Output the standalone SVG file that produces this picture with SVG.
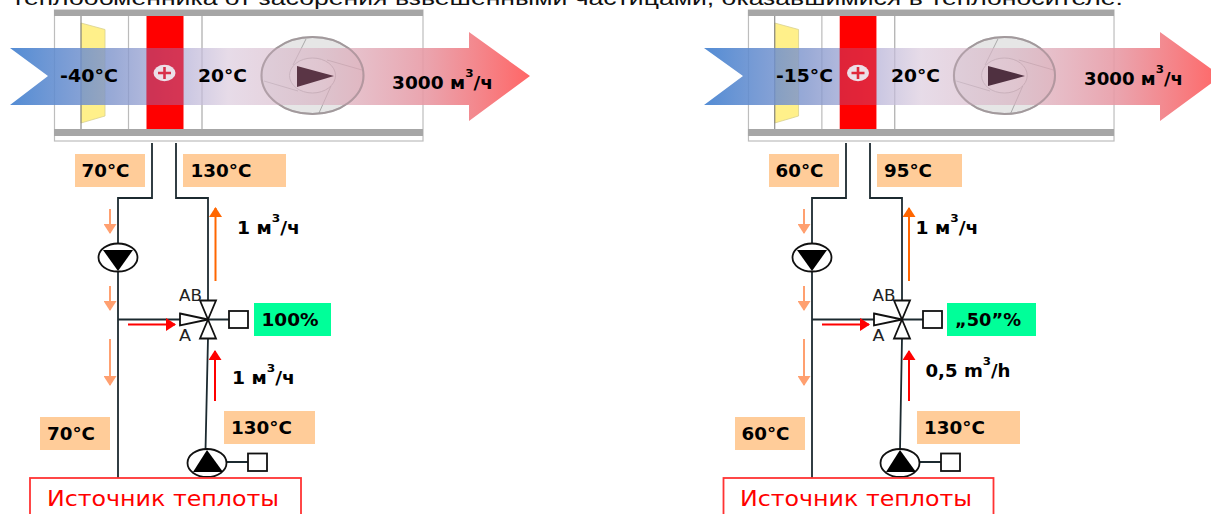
<svg xmlns="http://www.w3.org/2000/svg" xmlns:xlink="http://www.w3.org/1999/xlink" width="1211" height="514" viewBox="0 0 1211 514">
<style>
text{font-family:"DejaVu Sans",Verdana,sans-serif}
.b{font-weight:700;font-size:18px;fill:#000}
.m{font-weight:700;font-size:17px;fill:#000}
.s{font-size:11px;font-weight:700}
.p{fill:#fc9}
.g{fill:#0f9}
.pipe{fill:none;stroke:#1c2a30;stroke-width:1.800}
.sym{fill:#fff;stroke:#111;stroke-width:1.800}
.blk{fill:#000}
.l{font-size:15px;fill:#222}
.src{font-size:22px;fill:#f00}
.box{fill:#fff;stroke:#f33;stroke-width:1.800}
.ap{stroke:#ffa070;stroke-width:2;fill:none;marker-end:url(#mp)}
.ao{stroke:#f60;stroke-width:2;fill:none;marker-end:url(#mo)}
.ar{stroke:#f00;stroke-width:2;fill:none;marker-end:url(#mr)}
.ring{fill:none;stroke:#9a8a90;stroke-width:2;stroke-opacity:.55}
</style>
<defs>
<linearGradient id="flow" x1="0" x2="1" y1="0" y2="0">
<stop offset="0" stop-color="#4a86d2" stop-opacity=".95"/>
<stop offset=".2" stop-color="#8095cc" stop-opacity=".8"/>
<stop offset=".33" stop-color="#b5b2d8" stop-opacity=".75"/>
<stop offset=".42" stop-color="#dcccde" stop-opacity=".7"/>
<stop offset=".6" stop-color="#d8b0c0" stop-opacity=".65"/>
<stop offset=".8" stop-color="#e89aa5" stop-opacity=".9"/>
<stop offset="1" stop-color="#ff6666"/>
</linearGradient>
<marker id="mp" markerUnits="userSpaceOnUse" markerWidth="11" markerHeight="13" refX="9" refY="6.500" orient="auto"><path d="M0 0L10 6.500L0 13Z" fill="#ffa070"/></marker>
<marker id="mo" markerUnits="userSpaceOnUse" markerWidth="11" markerHeight="13" refX="9" refY="6.500" orient="auto"><path d="M0 0L10 6.500L0 13Z" fill="#f60"/></marker>
<marker id="mr" markerUnits="userSpaceOnUse" markerWidth="11" markerHeight="13" refX="9" refY="6.500" orient="auto"><path d="M0 0L10 6.500L0 13Z" fill="#f00"/></marker>
<g id="duct">
<rect x="54.500" y="10" width="368.500" height="131" fill="#fff" stroke="#bdbdbd" stroke-width="1.200"/>
<rect x="54" y="10" width="369" height="6" fill="#a6a6a6"/>
<rect x="54" y="129" width="369" height="7" fill="#a6a6a6"/>
<path d="M81 23L105 29.500V116L81 123Z" fill="#fff08a" stroke="#d8d090" stroke-width=".8"/>
<path d="M81 16V129" stroke="#777" stroke-width="1"/>
<path d="M128.500 16V129" stroke="#bbb" stroke-width="1.200"/>
<rect x="146.500" y="16" width="37" height="113" fill="#f00"/>
<path d="M202 16V129" stroke="#999" stroke-width="1"/>
<ellipse cx="312.500" cy="75.500" rx="51" ry="38.500" fill="#e6e6e6" stroke="#aaa" stroke-width="2"/>
<ellipse cx="312.500" cy="75.500" rx="23" ry="17.500" fill="#eee" stroke="#aaa" stroke-width="1"/>
<path d="M306 39L293 65M362 70L327 60M319 113L331 86M264 81L298 91" stroke="#999" stroke-width=".8" fill="none"/>
</g>
<g id="pump"><ellipse cx="0" cy="0" rx="19.500" ry="14" class="sym"/></g>
<g id="valve">
<path d="M-8-19H8L0 0L-8 19H8L0 0Z" class="sym"/>
<path d="M-28-6L0 0L-28 6Z" class="sym"/>
</g>
</defs>
<text x="12" y="5" font-size="20" textLength="1111" lengthAdjust="spacingAndGlyphs" style="font-family:'Liberation Sans',Arial,sans-serif" fill="#111">теплообменника от засорения взвешенными  частицами, оказавшимися в теплоносителе.</text>

<g id="duct-left">
<use xlink:href="#duct"/>
<path d="M10 48H469V32L530 76L469 121V105H10L48 76Z" fill="url(#flow)"/>
<rect x="146.500" y="48" width="37" height="57" fill="#e00020" fill-opacity=".6"/>
<ellipse class="ring" cx="312.500" cy="75.500" rx="51" ry="38.500"/>
<path d="M297 66L334 76L297 87Z" fill="#5a3545"/>
<ellipse cx="164.500" cy="73" rx="11" ry="8.300" fill="#ecdfe8"/>
<path d="M158 73H171M164.500 67V79" stroke="#d8304a" stroke-width="2.600"/>
<text class="b" x="60" y="82" textLength="58" lengthAdjust="spacingAndGlyphs">-40°C</text>
<text class="b" x="198" y="82" textLength="49" lengthAdjust="spacingAndGlyphs">20°C</text>
<text class="m" x="392" y="88.500" textLength="101" lengthAdjust="spacingAndGlyphs">3000 м<tspan class="s" dy="-12">3</tspan><tspan dy="12">/ч</tspan></text>
</g>

<g id="duct-right">
<use xlink:href="#duct" transform="translate(694.400 0) scale(.992 1)"/>
<path d="M704 48H1160V32L1221 76L1160 121V105H704L743 76Z" fill="url(#flow)"/>
<rect x="839.700" y="48" width="36.700" height="57" fill="#f00010" fill-opacity=".72"/>
<ellipse class="ring" cx="1004.500" cy="75.500" rx="50.500" ry="38.500"/>
<path d="M988 66L1025 76L988 86Z" fill="#4f3040"/>
<ellipse cx="858" cy="73" rx="11" ry="8.300" fill="#ecdfe8"/>
<path d="M851.500 73H864.500M858 67V79" stroke="#e0283a" stroke-width="2.600"/>
<text class="b" x="776" y="82" textLength="57" lengthAdjust="spacingAndGlyphs">-15°C</text>
<text class="b" x="891" y="82" textLength="49" lengthAdjust="spacingAndGlyphs">20°C</text>
<text class="m" x="1084" y="85" textLength="99" lengthAdjust="spacingAndGlyphs">3000 м<tspan class="s" dy="-12">3</tspan><tspan dy="12">/ч</tspan></text>
</g>

<g id="connectors">
<path class="pipe" d="M152 143V198H118V478M176 143V198H208V300M118 319.500H180M208 338L205.500 450M227 462H248M208 319.500H229"/>
<path class="pipe" d="M846 143V198H812V478M870 143V198H902V300M812 319.500H874M902 338L900 450M920 462H941M902 319.500H923"/>
<path class="ap" d="M110 209V233"/><path class="ap" d="M110 286V310"/><path class="ap" d="M110 339V385"/>
<path class="ap" d="M804 209V233"/><path class="ap" d="M804 286V310"/><path class="ap" d="M804 339V385"/>
<path class="ao" d="M215.500 281V208"/><path class="ao" d="M909 281V208"/>
<path class="ar" d="M128 324.500H175"/><path class="ar" d="M215 401V351"/><path class="ar" d="M822 324.500H869"/><path class="ar" d="M909 401V351"/>
</g>

<g id="left-labels">
<rect class="p" x="75" y="154" width="70" height="33"/><text class="b" x="81.500" y="177" textLength="48" lengthAdjust="spacingAndGlyphs">70°C</text>
<rect class="p" x="183" y="154" width="103" height="33"/><text class="b" x="190.500" y="177" textLength="61" lengthAdjust="spacingAndGlyphs">130°C</text>
<rect class="p" x="40" y="417" width="70" height="33"/><text class="b" x="47" y="440" textLength="48" lengthAdjust="spacingAndGlyphs">70°C</text>
<rect class="p" x="224" y="411" width="91" height="33"/><text class="b" x="231" y="434" textLength="61" lengthAdjust="spacingAndGlyphs">130°C</text>
<text class="m" x="237" y="234" textLength="63" lengthAdjust="spacingAndGlyphs">1 м<tspan class="s" dy="-12">3</tspan><tspan dy="12">/ч</tspan></text>
<text class="m" x="232" y="384" textLength="63" lengthAdjust="spacingAndGlyphs">1 м<tspan class="s" dy="-12">3</tspan><tspan dy="12">/ч</tspan></text>
</g>
<g id="pump-left-top"><use xlink:href="#pump" x="118" y="257.500"/><path class="blk" d="M103 250H133L118 271Z"/></g>
<g id="valve-left"><use xlink:href="#valve" x="208" y="319.500"/><text class="l" x="179" y="300.500" textLength="23" lengthAdjust="spacingAndGlyphs">AB</text><text class="l" x="179" y="340.500" textLength="12" lengthAdjust="spacingAndGlyphs">A</text><rect class="sym" x="229" y="311" width="19" height="17"/><rect class="g" x="254" y="303" width="77" height="33"/><text class="b" x="261.500" y="326" textLength="57" lengthAdjust="spacingAndGlyphs">100%</text></g>
<g id="pump-left-bottom"><use xlink:href="#pump" x="207" y="463"/><path class="blk" d="M193 472H223L207 450Z"/><rect class="sym" x="248" y="453.500" width="19" height="17.500"/></g>
<g id="source-left"><rect class="box" x="30" y="478" width="271" height="50"/><text class="src" x="47" y="506" textLength="232" lengthAdjust="spacingAndGlyphs">Источник теплоты</text></g>

<g id="right-labels">
<rect class="p" x="769" y="154" width="70" height="33"/><text class="b" x="775.500" y="177" textLength="48" lengthAdjust="spacingAndGlyphs">60°C</text>
<rect class="p" x="877" y="154" width="85" height="33"/><text class="b" x="884" y="177" textLength="48" lengthAdjust="spacingAndGlyphs">95°C</text>
<rect class="p" x="735" y="417" width="70" height="33"/><text class="b" x="741.500" y="440" textLength="48" lengthAdjust="spacingAndGlyphs">60°C</text>
<rect class="p" x="917" y="411" width="103" height="33"/><text class="b" x="924" y="434" textLength="61" lengthAdjust="spacingAndGlyphs">130°C</text>
<text class="m" x="915.500" y="234" textLength="63" lengthAdjust="spacingAndGlyphs">1 м<tspan class="s" dy="-12">3</tspan><tspan dy="12">/ч</tspan></text>
<text class="m" x="925.500" y="377" textLength="85" lengthAdjust="spacingAndGlyphs">0,5 m<tspan class="s" dy="-12">3</tspan><tspan dy="12">/h</tspan></text>
</g>
<g id="pump-right-top"><use xlink:href="#pump" x="812" y="257.500"/><path class="blk" d="M797 250H827L812 271Z"/></g>
<g id="valve-right"><use xlink:href="#valve" x="902" y="319.500"/><text class="l" x="872.500" y="300.500" textLength="23" lengthAdjust="spacingAndGlyphs">AB</text><text class="l" x="872.500" y="340.500" textLength="12" lengthAdjust="spacingAndGlyphs">A</text><rect class="sym" x="923" y="311" width="19" height="17"/><rect class="g" x="947" y="303" width="89" height="33"/><text class="b" x="955" y="326" textLength="66" lengthAdjust="spacingAndGlyphs">„50”%</text></g>
<g id="pump-right-bottom"><use xlink:href="#pump" x="900" y="463"/><path class="blk" d="M886 472H916L900 450Z"/><rect class="sym" x="941" y="453.500" width="19" height="17.500"/></g>
<g id="source-right"><rect class="box" x="723.500" y="478" width="270" height="50"/><text class="src" x="740" y="506" textLength="232" lengthAdjust="spacingAndGlyphs">Источник теплоты</text></g>
</svg>
